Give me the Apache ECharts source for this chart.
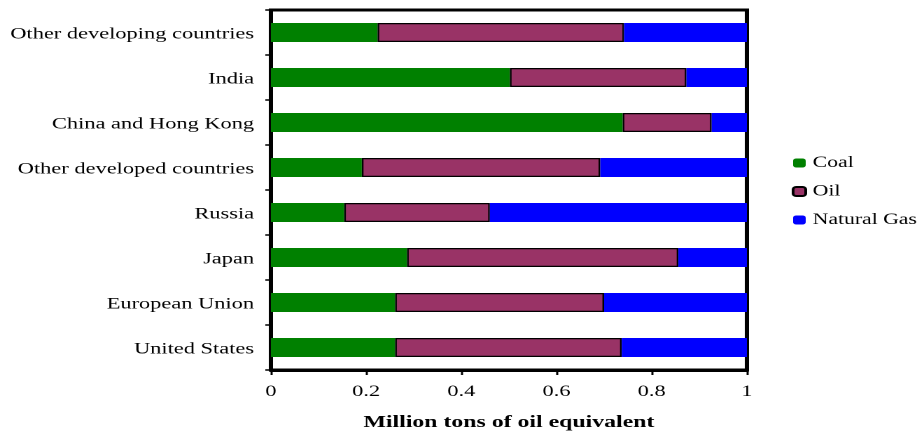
<!DOCTYPE html>
<html><head><meta charset="utf-8">
<script src="https://cdn.jsdelivr.net/npm/echarts@6/dist/echarts.min.js"></script>
<style>
html,body{margin:0;padding:0;background:#fff;overflow:hidden}
#wrap{width:917px;height:442px;overflow:hidden}
#c{width:655px;height:442px;transform:scaleX(1.4);transform-origin:0 0}
</style>
</head><body><div id="wrap"><div id="c"></div></div>
<script>
var categories = ["United States","European Union","Japan","Russia","Other developed countries","China and Hong Kong","India","Other developing countries"];
var coal = [0.261, 0.261, 0.286, 0.154, 0.191, 0.739, 0.502, 0.224];
var oil = [0.476, 0.439, 0.570, 0.306, 0.501, 0.187, 0.371, 0.518];
var gas = [0.263, 0.300, 0.144, 0.540, 0.308, 0.074, 0.127, 0.258];
var xTicks = [0, 0.2, 0.4, 0.6, 0.8, 1];

var font = 'Liberation Serif';
var chart = echarts.init(document.getElementById('c'), null, {renderer:'canvas', devicePixelRatio:2});
chart.setOption({
  animation:false,
  textStyle:{fontFamily:font},
  grid:{left:193.5, top:10, right:121.5, bottom:72, show:true, borderColor:'#000', borderWidth:3, backgroundColor:'transparent'},
  legend:{
    orient:'vertical', left:565.5, top:155, padding:0, itemWidth:9, itemHeight:9, itemGap:12.5,
    textStyle:{fontFamily:font, fontSize:15.5, color:'#000'},
    data:[{name:'Coal'},{name:'Oil'},{name:'Natural Gas'}]
  },
  xAxis:{
    type:'value', min:xTicks[0], max:xTicks[xTicks.length-1], interval:0.2,
    axisLine:{show:true, lineStyle:{color:'#000', width:3}},
    axisTick:{show:true, length:5, lineStyle:{color:'#000', width:1.5}},
    splitLine:{show:false},
    axisLabel:{fontFamily:font, fontSize:16, color:'#000', margin:14, formatter:function(v){return String(Math.round(v*10)/10);}},
    name:'Million tons of oil equivalent', nameLocation:'middle', nameGap:44,
    nameTextStyle:{fontFamily:font, fontSize:17, fontWeight:'bold', color:'#000'}
  },
  yAxis:{
    type:'category', data:categories,
    axisLine:{show:true, lineStyle:{color:'#000', width:3}},
    axisTick:{show:true, length:4, lineStyle:{color:'#000', width:1.5}},
    axisLabel:{fontFamily:font, fontSize:16, color:'#000', margin:12,
      formatter:function(v){return '{a|' + v + '}';},
      rich:{a:{fontFamily:font, fontSize:16, color:'#000', padding:[4,0,0,0]}}}
  },
  series:[
    {name:'Coal', type:'bar', stack:'a', data:coal, barWidth:19, itemStyle:{color:'#008000'}},
    {name:'Oil', type:'bar', stack:'a', data:oil, barWidth:19, itemStyle:{color:'#993366', borderColor:'#000', borderWidth:1.2}},
    {name:'Natural Gas', type:'bar', stack:'a', data:gas, barWidth:19, itemStyle:{color:'#0000ff'}}
  ]
});
</script></body></html>
